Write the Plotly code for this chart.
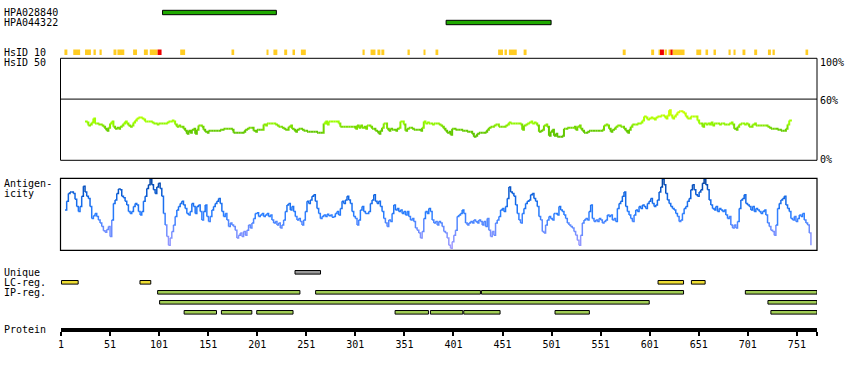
import numpy as np
import plotly.graph_objects as go

# ---------------- data ----------------
PROTEIN_LENGTH = 771
TICK_VALUES = [1, 51, 101, 151, 201, 251, 301, 351, 401, 451, 501, 551, 601, 651, 701, 751]

ANTIBODY_NAMES = ["HPA028840", "HPA044322"]
ANTIBODY_START = [105, 394]
ANTIBODY_END = [220, 500]

# HsID 10 blocks: level "m" = moderate (gold), "h" = high (red)
HSID10_START = [5, 14, 26, 35, 41, 56, 59, 75, 86, 92, 100, 123, 176, 211, 218, 229, 238, 246,
                309, 317, 324, 328, 355, 371, 384, 447, 454, 458, 473, 574, 603, 611, 612, 617,
                621, 623, 625, 649, 659, 667, 682, 687, 697, 708, 722, 727, 761]
HSID10_END = [7, 20, 31, 36, 42, 57, 65, 78, 89, 99, 103, 127, 177, 212, 221, 231, 239, 250,
              310, 321, 326, 330, 356, 372, 385, 451, 455, 465, 475, 576, 605, 611, 615, 618,
              622, 624, 636, 653, 660, 668, 683, 688, 698, 710, 724, 728, 762]
HSID10_LEVEL = ["m", "m", "m", "m", "m", "m", "m", "m", "m", "m", "h", "m", "m", "m", "m", "m",
                "m", "m", "m", "m", "m", "m", "m", "m", "m", "m", "m", "m", "m", "m", "m", "m",
                "h", "m", "m", "h", "m", "m", "m", "m", "m", "m", "m", "m", "m", "m", "m"]

UNIQUE_START = [240]
UNIQUE_END = [265]

LC_START = [2, 82, 610, 644]
LC_END = [18, 92, 635, 657]

IP_ROW = [0, 0, 0, 0, 1, 1, 2, 2, 2, 2, 2, 2, 2, 2]
IP_START = [100, 261, 430, 699, 102, 722, 127, 165, 201, 342, 378, 412, 505, 725]
IP_END = [244, 428, 635, 771, 600, 771, 159, 195, 237, 375, 410, 448, 539, 771]

# HsID 50 conservation (%), sampled every ~1.7 residues from residue 25.5
CONS_FIRST_RESIDUE = 25.5
CONS_STEP = 1.7007
CONS_VALUES = [
    38, 37, 34, 35, 37, 41, 36, 36, 35, 35,
    34, 33, 31, 29, 32, 36, 38, 33, 31, 32,
    31, 33, 34, 36, 38, 36, 34, 33, 34, 37,
    39, 41, 42, 42, 41, 40, 38, 38, 38, 38,
    37, 36, 36, 35, 36, 36, 36, 36, 36, 37,
    38, 38, 39, 38, 35, 33, 34, 33, 33, 31,
    29, 26, 29, 27, 30, 31, 26, 30, 34, 34,
    33, 30, 28, 27, 29, 29, 29, 29, 29, 29,
    29, 30, 30, 31, 31, 31, 31, 31, 30, 27,
    27, 27, 27, 27, 27, 28, 30, 31, 32, 32,
    32, 29, 28, 30, 30, 30, 30, 35, 34, 36,
    36, 36, 36, 36, 35, 34, 33, 33, 32, 31,
    30, 30, 33, 34, 31, 30, 28, 30, 31, 31,
    30, 29, 29, 28, 28, 28, 28, 28, 28, 27,
    27, 27, 27, 36, 38, 35, 38, 38, 38, 38,
    38, 38, 36, 33, 33, 33, 33, 33, 33, 33,
    33, 33, 31, 34, 32, 34, 32, 33, 31, 34,
    34, 33, 31, 31, 29, 28, 26, 29, 32, 36,
    36, 31, 29, 31, 30, 30, 29, 31, 32, 38,
    38, 35, 29, 31, 32, 32, 31, 30, 30, 30,
    30, 29, 32, 38, 36, 37, 36,
    36, 35, 36, 36, 36, 35, 34, 33, 31, 29,
    27, 28, 25, 31, 31, 30, 30, 30, 30, 29,
    29, 29, 28, 28, 28, 26, 23, 24, 26, 27,
    27, 27, 27, 28, 30, 32, 33, 33, 34, 35,
    35, 33, 33, 33, 33, 34, 35, 37, 36, 36,
    36, 36, 36, 36, 35, 30, 34, 35, 36, 37,
    38, 36, 37, 36, 34, 28, 29, 30, 34, 35,
    33, 24, 28, 30, 24, 26, 23, 23, 23, 24,
    31, 31, 32, 32, 32, 32, 33, 30, 33, 34,
    31, 29, 27, 27, 28, 29, 29, 29, 29, 29,
    29, 29, 29, 30, 34, 35, 34, 31, 28, 30,
    31, 33, 34, 34, 33, 33, 31, 29, 27, 30,
    33, 35, 35, 35, 36, 36, 37, 39, 43, 42,
    40, 41, 42, 41, 40, 42, 43, 43, 44, 44,
    43, 41, 44, 49, 44, 41, 43, 45, 47, 48,
    48, 47, 46, 43, 41, 41, 43, 43, 43, 43,
    39, 36, 36, 33, 36, 35, 36, 35, 37, 34,
    36, 36, 36, 35, 36, 36, 35, 35, 35, 36,
    37, 35, 31, 30, 33, 35, 36, 36, 35, 36,
    35, 33, 33, 35, 36, 34, 34, 34, 34, 34,
    34, 34, 33, 32, 31, 31, 31, 31, 30, 30,
    29, 29, 29, 31, 35, 39, 40,
]

# Antigenicity score (arbitrary units, 0-100), sampled every ~1.7 residues from residue 5.1
ANTIGEN_FIRST_RESIDUE = 5.1
ANTIGEN_STEP = 1.7007
ANTIGEN_VALUES = [
    56, 68, 79, 81, 81, 79, 71, 61, 54, 61,
    75, 89, 81, 75, 72, 61, 44, 48, 51, 47,
    42, 38, 33, 27, 25, 29, 33, 19, 42, 65,
    70, 79, 85, 84, 75, 73, 68, 63, 54, 51,
    54, 61, 65, 63, 54, 49, 54, 68, 75, 86,
    91, 99, 91, 84, 79, 88, 93, 86, 75, 51,
    35, 19, 7, 17, 26, 35, 47, 56, 61, 65,
    68, 63, 58, 51, 49, 54, 65, 61, 51, 61,
    63, 54, 42, 54, 63, 47, 40, 47, 56, 61,
    65, 68, 72, 65, 54, 47, 51, 42, 33, 38,
    35, 33, 28, 17, 21, 24, 19, 26, 21, 28,
    35, 31, 38, 44, 51, 52, 47, 49, 51, 47,
    49, 51, 47, 49, 42, 38, 40, 35, 38, 31,
    35, 42, 54, 63, 65, 56, 61, 54, 47, 42,
    44, 40, 35, 42, 54, 68, 65, 70, 75, 77,
    68, 58, 51, 44, 47, 49, 47, 50, 48, 49,
    46, 47, 51, 54, 49, 58, 68, 65, 70, 75,
    70, 65, 54, 47, 44, 35, 42, 56, 61, 54,
    51, 51, 54, 65, 70, 77, 68, 65, 68, 61,
    54, 44, 38, 33, 42, 40, 51, 63, 56, 58,
    54, 56, 51, 54, 49, 54, 47, 42, 44, 40,
    31, 28, 24, 17, 26, 44,
    54, 51, 58, 54, 42, 38, 40, 35, 40, 38,
    33, 26, 24, 17, 7, 3, 12, 21, 28, 47,
    49, 51, 56, 51, 38, 35, 38, 40, 38, 42,
    40, 38, 42, 40, 35, 40, 33, 44, 28, 19,
    26, 21, 38, 42, 47, 56, 58, 54, 61, 72,
    88, 81, 79, 75, 63, 51, 42, 38, 51, 58,
    65, 68, 70, 77, 79, 72, 68, 61, 47, 42,
    26, 24, 35, 42, 47, 44, 42, 51, 51, 49,
    61, 56, 54, 49, 44, 38, 35, 33, 31, 26,
    21, 14, 7, 21, 38, 42, 44, 42, 54, 63,
    44, 40, 42, 40, 44, 42, 38, 40, 42, 49,
    47, 49, 42, 44, 40, 58, 65, 68, 75, 81,
    61, 54, 49, 44, 40, 49, 56, 54, 61, 58,
    63, 61, 58, 65, 68, 72, 65, 61, 63, 70,
    81, 88, 99, 91, 79, 70, 65, 61, 58, 56,
    51, 47, 40, 42, 51, 58, 61, 68, 72, 84,
    91, 84, 77, 75, 81, 84, 93, 99, 91, 84,
    70, 63, 58, 56, 61, 54, 58, 56, 54, 56,
    49, 44, 47, 35, 31, 35, 31, 40, 58, 70,
    72, 77, 65, 63, 61, 56, 61, 54, 58, 56,
    54, 51, 54, 56, 49, 38, 33, 28, 26, 21,
    35, 58, 65, 70, 72, 75, 63, 58, 54, 44,
    42, 47, 40, 44, 49, 47, 51, 42, 38, 35,
    24, 7,
]

# ---------------- layout helpers (page pixels -> paper fractions) ----------------
W, H = 850, 370
FONT = "DejaVu Sans Mono"


def fx(px):
    return px / W


def fy(py):
    return 1 - py / H


def lerp_color(stops, t):
    t = min(max(t, 0.0), 1.0)
    for (t0, c0), (t1, c1) in zip(stops[:-1], stops[1:]):
        if t <= t1:
            u = 0 if t1 == t0 else (t - t0) / (t1 - t0)
            c = [round(a + (b - a) * u) for a, b in zip(c0, c1)]
            return "rgb(%d,%d,%d)" % tuple(c)
    c = stops[-1][1]
    return "rgb(%d,%d,%d)" % tuple(c)


def colored_line(xs, ys, stops, vmin, vmax, yaxis, width, nbins=30):
    groups = {}
    for i in range(len(xs) - 1):
        v = (ys[i] + ys[i + 1]) / 2
        t = (v - vmin) / (vmax - vmin)
        b = round(min(max(t, 0), 1) * nbins) / nbins
        gx, gy = groups.setdefault(b, ([], []))
        gx += [xs[i], xs[i + 1], None]
        gy += [ys[i], ys[i + 1], None]
    traces = []
    for b, (gx, gy) in sorted(groups.items()):
        traces.append(go.Scatter(x=gx, y=gy, mode="lines", yaxis=yaxis, xaxis="x",
                                 line=dict(color=lerp_color(stops, b), width=width, shape="hv"),
                                 hoverinfo="skip", showlegend=False))
    return traces


def bar_trace(starts, ends, ypos, color, height, line_w=1, yaxis="y"):
    s = np.array(starts, dtype=float)
    e = np.array(ends, dtype=float)
    return go.Bar(x=e - s + 1, base=s - 0.5, y=ypos, orientation="h", width=height,
                  marker=dict(color=color, line=dict(color="black", width=line_w)),
                  xaxis="x", yaxis=yaxis, hoverinfo="skip", showlegend=False)


fig = go.Figure()

# antibody bars
ab_rows = [12.5, 22.5]
for i in range(len(ANTIBODY_NAMES)):
    fig.add_trace(bar_trace([ANTIBODY_START[i]], [ANTIBODY_END[i]], [ab_rows[i]], "#1faa00", 4.4))

# HsID 10 blocks
hs_colors = ["#ffcc22" if lv == "m" else "#ee0000" for lv in HSID10_LEVEL]
fig.add_trace(bar_trace(HSID10_START, HSID10_END, [52.3] * len(HSID10_START), hs_colors, 5.5, line_w=0))

# Unique / LC / IP tracks
fig.add_trace(bar_trace(UNIQUE_START, UNIQUE_END, [272.3] * len(UNIQUE_START), "#999999", 3.6))
fig.add_trace(bar_trace(LC_START, LC_END, [282.3] * len(LC_START), "#eedd33", 3.6))
ip_row_y = [292.3, 302.3, 312.3]
fig.add_trace(bar_trace(IP_START, IP_END, [ip_row_y[r] for r in IP_ROW], "#a0cc55", 3.6))

# conservation line
cons_x = CONS_FIRST_RESIDUE + CONS_STEP * np.arange(len(CONS_VALUES))
cons_stops = [(0.0, (95, 195, 0)), (0.22, (102, 204, 0)), (0.4, (135, 232, 0)),
              (0.52, (153, 255, 0)), (1.0, (205, 255, 0))]
for tr in colored_line(list(cons_x), CONS_VALUES, cons_stops, 25, 48, "y2", 2):
    fig.add_trace(tr)

# antigenicity line
ag_x = ANTIGEN_FIRST_RESIDUE + ANTIGEN_STEP * np.arange(len(ANTIGEN_VALUES))
ag_stops = [(0.0, (175, 160, 255)), (0.3, (105, 140, 255)), (0.5, (40, 125, 255)),
            (0.75, (15, 100, 225)), (1.0, (0, 60, 150))]
for tr in colored_line(list(ag_x), ANTIGEN_VALUES, ag_stops, 0, 100, "y3", 1.5):
    fig.add_trace(tr)

# ---------------- shapes ----------------
BOX_L, BOX_R = 60.5, 817
shapes = [
    dict(type="rect", xref="paper", yref="paper", x0=fx(BOX_L), x1=fx(BOX_R),
         y0=fy(160.3), y1=fy(58.3), line=dict(color="black", width=1)),
    dict(type="line", xref="paper", yref="y2", x0=fx(BOX_L), x1=fx(BOX_R), y0=60, y1=60,
         line=dict(color="black", width=1)),
    dict(type="rect", xref="paper", yref="paper", x0=fx(BOX_L), x1=fx(BOX_R),
         y0=fy(250.3), y1=fy(178.3), line=dict(color="black", width=1.2)),
]

# ---------------- text ----------------
def label(text, px, py, anchor="left"):
    return dict(text=text, xref="paper", yref="paper", x=fx(px), y=fy(py), xanchor=anchor,
                yanchor="middle", showarrow=False, font=dict(family=FONT, size=10, color="black"))


annotations = [
    label(ANTIBODY_NAMES[0], 2, 12.5),
    label(ANTIBODY_NAMES[1], 2, 22.8),
    label("HsID 10", 2, 52.5),
    label("HsID 50", 2, 62.5),
    label("Antigen-", 2, 183),
    label("icity", 2, 193),
    label("Unique", 2, 272.5),
    label("LC-reg.", 2, 282.5),
    label("IP-reg.", 2, 292.5),
    label("Protein", 2, 329.5),
    label("100%", 818, 62.5),
    label("60%", 818, 100.5),
    label("0%", 818, 159.5),
]

tickvals = TICK_VALUES + [PROTEIN_LENGTH]
ticktext = [str(v) for v in TICK_VALUES] + [""]

fig.update_layout(
    width=W, height=H,
    margin=dict(l=0, r=0, t=0, b=0),
    paper_bgcolor="white", plot_bgcolor="rgba(0,0,0,0)",
    template="none",
    barmode="overlay",
    showlegend=False,
    hovermode=False,
    xaxis=dict(domain=[fx(BOX_L), fx(BOX_R)], range=[0.5, PROTEIN_LENGTH + 0.5],
               anchor="free", position=fy(330), showline=True, linecolor="black", linewidth=3.5,
               ticks="outside", ticklen=4, tickwidth=2, tickcolor="black",
               tickvals=tickvals, ticktext=ticktext, showgrid=False, zeroline=False,
               tickfont=dict(family=FONT, size=10, color="black")),
    yaxis=dict(domain=[0, 1], range=[H, 0], visible=False, anchor="x"),
    yaxis2=dict(domain=[fy(160.3), fy(58.3)], range=[0, 100], visible=False, anchor="x"),
    yaxis3=dict(domain=[fy(250.3), fy(178.3)], range=[0, 100], visible=False, anchor="x"),
    shapes=shapes,
    annotations=annotations,
)

fig.write_html("out.html", config={"displayModeBar": False},
               post_script="document.body.style.margin='0';document.body.style.padding='0';")
